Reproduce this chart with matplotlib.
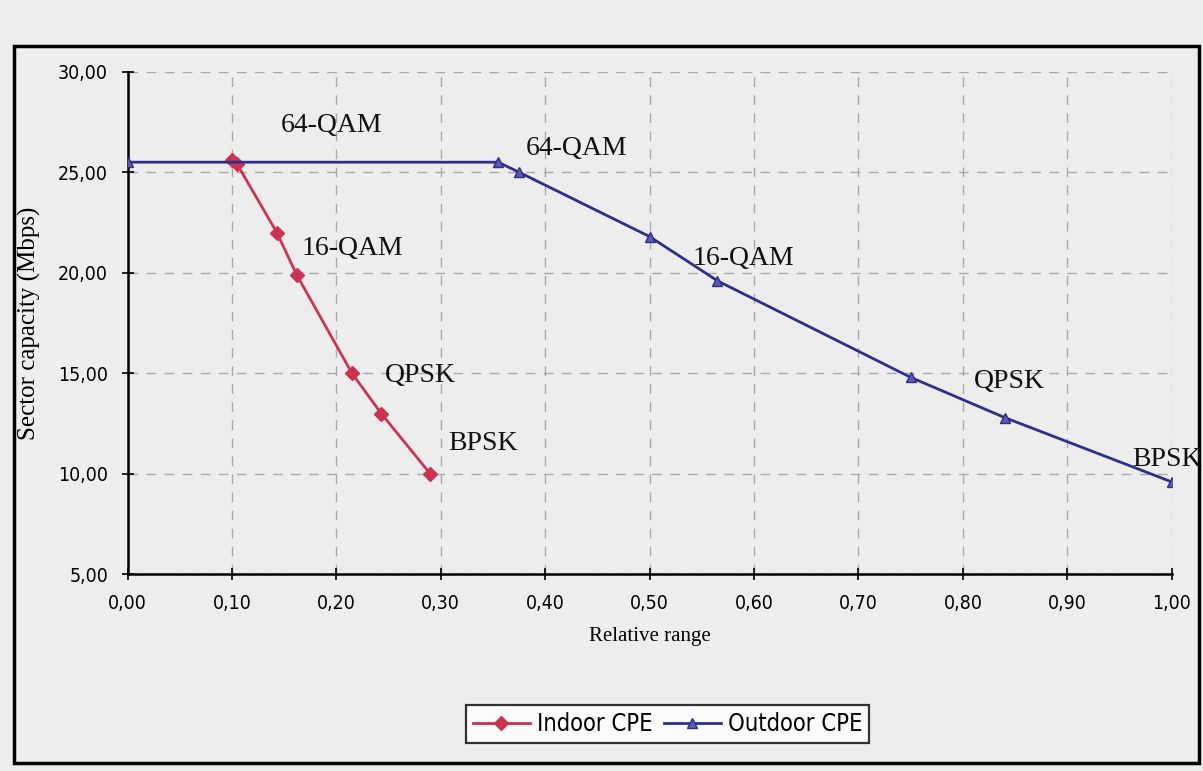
import numpy as np
import matplotlib.pyplot as plt
from matplotlib.patches import Rectangle

# data
indoor_x = [0.100, 0.105, 0.143, 0.162, 0.215, 0.243, 0.290]
indoor_y = [25.6, 25.4, 22.0, 19.9, 15.0, 13.0, 10.0]
outdoor_x = [0.000, 0.355, 0.375, 0.500, 0.565, 0.750, 0.840, 1.000]
outdoor_y = [25.5, 25.5, 25.0, 21.8, 19.6, 14.8, 12.8, 9.6]

x_ticks = np.arange(0, 1.01, 0.1)
y_ticks = [5, 10, 15, 20, 25, 30]
x_labels = ['0,00', '0,10', '0,20', '0,30', '0,40', '0,50', '0,60', '0,70', '0,80', '0,90', '1,00']
y_labels = ['5,00', '10,00', '15,00', '20,00', '25,00', '30,00']

indoor_notes = [('64-QAM', 0.195, 27.3), ('16-QAM', 0.215, 21.2), ('QPSK', 0.28, 14.9), ('BPSK', 0.34, 11.5)]
outdoor_notes = [('64-QAM', 0.43, 26.2), ('16-QAM', 0.59, 20.7), ('QPSK', 0.845, 14.6), ('BPSK', 0.995, 10.7)]

bg = '#ededed'
fig = plt.figure(figsize=(12.03, 7.71), dpi=100, facecolor=bg)
ax = fig.add_axes([0.106, 0.255, 0.868, 0.652], facecolor=bg)

ax.plot(indoor_x, indoor_y, color='#cc3350', marker='D', markersize=7, lw=2, label='Indoor CPE', zorder=3)
ax.plot(outdoor_x, outdoor_y, color='#2e2e8c', marker='^', markersize=7, lw=2,
        markerfacecolor='#5a5ab0', label='Outdoor CPE', zorder=4)

for txt, x, y in indoor_notes + outdoor_notes:
    ax.text(x, y, txt, fontsize=20, family='Liberation Serif', ha='center', va='center', color='#111111')

ax.set_xlim(0, 1.0)
ax.set_ylim(5, 30)
ax.set_xticks(x_ticks)
ax.set_xticklabels(x_labels)
ax.set_yticks(y_ticks)
ax.set_yticklabels(y_labels)
ax.tick_params(labelsize=14, direction='inout', length=8, width=1.2, pad=10)
for lab in ax.get_xticklabels() + ax.get_yticklabels():
    lab.set_fontfamily('DejaVu Sans')
    lab.set_fontstretch('condensed')

ax.grid(True, linestyle=(0, (7, 6)), color='#a8a8a8', lw=1)
for s in ['top', 'right']:
    ax.spines[s].set_visible(False)
for s in ['left', 'bottom']:
    ax.spines[s].set_linewidth(1.8)

ax.set_xlabel('Relative range', fontsize=15, family='Liberation Serif', labelpad=10)
ax.set_ylabel('Sector capacity (Mbps)', fontsize=18, family='Liberation Serif', labelpad=12)

leg = fig.legend(loc='center', bbox_to_anchor=(0.555, 0.061), ncol=2, frameon=True,
                 fancybox=False, edgecolor='black', facecolor='white', fontsize=17,
                 handlelength=2.4, columnspacing=0.5, handletextpad=0.3, borderpad=0.3)
leg.get_frame().set_linewidth(1.6)
for t in leg.get_texts():
    t.set_fontfamily('DejaVu Sans')
    t.set_fontstretch('condensed')

# page frame from the original figure
fig.patches.append(Rectangle((0.012, 0.01), 0.985, 0.93, transform=fig.transFigure,
                             fill=False, edgecolor='black', lw=2.5))

fig.savefig('out.png', dpi=100, facecolor=bg)
